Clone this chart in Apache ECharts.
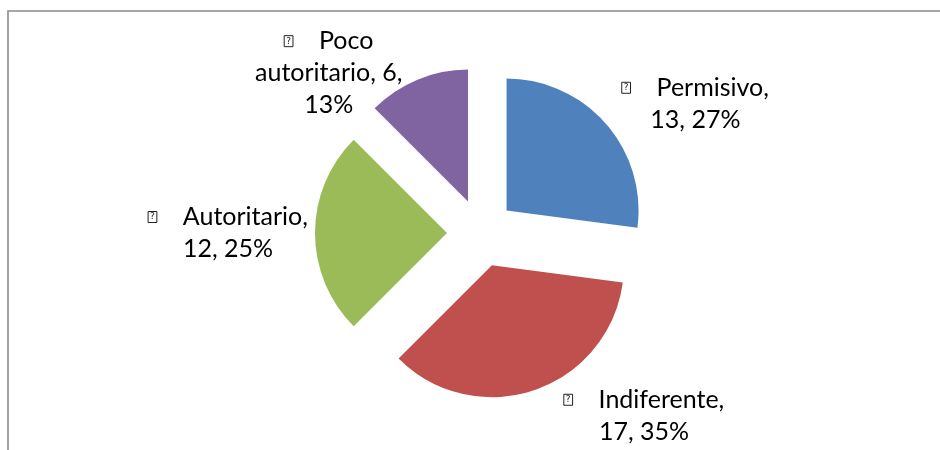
<!DOCTYPE html>
<html>
<head>
<meta charset="utf-8">
<title>Estilos</title>
<script src="https://cdn.jsdelivr.net/npm/echarts@6/dist/echarts.min.js"></script>
<style>
    html, body { margin: 0; padding: 0; background: #fff; }
    #main { width: 940px; height: 450px; }
</style>
</head>
<body>
<div id="main"></div>
<script>
// datos del grafico
var categorias = ['Permisivo', 'Indiferente', 'Autoritario', 'Poco\nautoritario'];
var valores = [13, 17, 12, 6];
var colores = ['#4F81BD', '#C0504D', '#9BBB59', '#8064A2'];

// largo de la guia (invisible) de cada etiqueta: [length, length2]
var guiaEtiquetas = [[30, 62], [27, 96], [15, 67], [7, 81]];

var datos = [];
for (var i = 0; i < categorias.length; i++) {
    datos.push({
        name: categorias[i],
        value: valores[i],
        selected: true,
        itemStyle: { color: colores[i] },
        labelLine: { show: false, length: guiaEtiquetas[i][0], length2: guiaEtiquetas[i][1] }
    });
}

var myChart = echarts.init(document.getElementById('main'));
var option = {
    animation: false,
    graphic: [{
        type: 'rect',
        shape: { x: 8, y: 11, width: 1000, height: 1000 },
        style: { fill: 'none', stroke: '#8a8a8a', lineWidth: 1.6 },
        silent: true
    }],
    series: [{
        type: 'pie',
        center: [481, 233],
        radius: 132,
        startAngle: 90,
        clockwise: true,
        selectedMode: 'multiple',
        selectedOffset: 34,
        data: datos,
        label: {
            show: true,
            position: 'outside',
            fontFamily: 'Lato',
            fontSize: 25,
            lineHeight: 32,
            color: '#000',
            formatter: function(p){
                var nombre = p.name;
                var pct = Math.round(p.percent) + '%';
                if (nombre.indexOf('\n') >= 0) {
                    var partes = nombre.split('\n');
                    return '{q|?}{s|}' + partes[0] + '\n' + partes[1] + ', ' + p.value + ',\n' + pct;
                }
                return '{q|?}{s|}' + nombre + ',\n' + p.value + ', ' + pct;
            },
            rich: {
                q: {
                    fontFamily: 'DejaVu Sans',
                    fontSize: 9,
                    lineHeight: 10,
                    color: '#222',
                    borderColor: '#222',
                    borderWidth: 1,
                    padding: [1, 2, 1, 2]
                },
                s: { width: 26 }
            }
        },
        labelLine: { show: false },
        // lineas centradas como en el original
        labelLayout: function(){
            return { align: 'center', hideOverlap: false };
        },
        emphasis: { disabled: true }
    }]
};
myChart.setOption(option);
</script>
</body>
</html>
